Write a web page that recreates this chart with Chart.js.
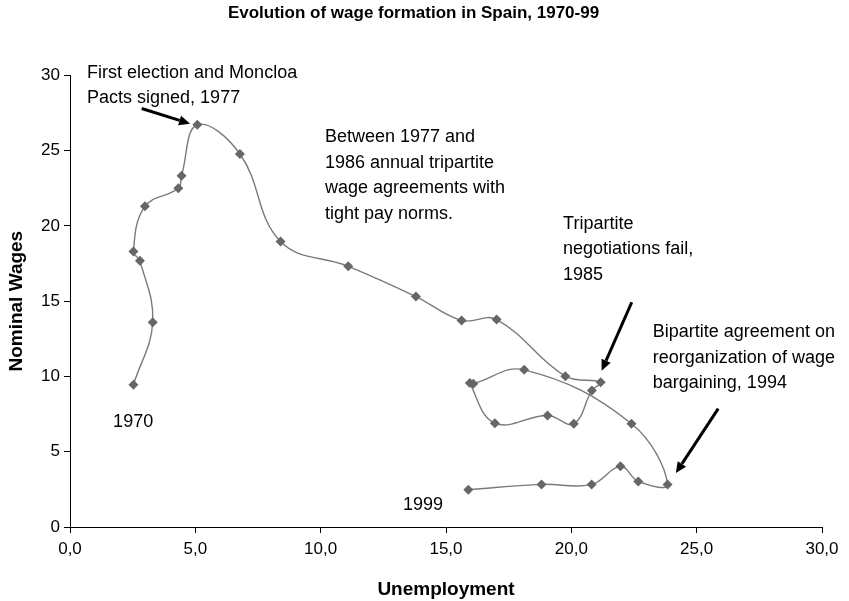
<!DOCTYPE html>
<html lang="en">
<head>
  <meta charset="UTF-8">
  <title>Evolution of wage formation in Spain, 1970-99</title>
  <script src="https://cdn.jsdelivr.net/npm/chart.js"></script>
  <style>
    body {
      margin: 0;
      background-color: #fff;
    }
    #wrap {
      width: 849px;
      height: 601px;
    }
  </style>
</head>
<body>
  <div id="wrap"><canvas id="wageChart" width="849" height="601"></canvas></div>

  <script>
    // one point per year, 1970 .. 1999
    const years = [1970, 1971, 1972, 1973, 1974, 1975, 1976, 1977, 1978, 1979,
                   1980, 1981, 1982, 1983, 1984, 1985, 1986, 1987, 1988, 1989,
                   1990, 1991, 1992, 1993, 1994, 1995, 1996, 1997, 1998, 1999];
    const unemployment = [2.53, 3.30, 2.79, 2.53, 2.99, 4.32, 4.45, 5.08, 6.78, 8.40,
                          11.10, 13.80, 15.62, 17.02, 19.76, 21.17, 20.82, 20.10, 19.05, 16.95,
                          15.95, 16.09, 18.12, 22.40, 23.84, 22.67, 21.96, 20.81, 18.81, 15.89];
    const nominalWages = [9.45, 13.60, 17.68, 18.30, 21.30, 22.50, 23.34, 26.72, 24.78, 18.96,
                          17.32, 15.31, 13.72, 13.78, 10.02, 9.62, 9.07, 6.86, 7.41, 6.90,
                          9.56, 9.52, 10.44, 6.86, 2.83, 3.03, 4.03, 2.83, 2.83, 2.48];
    const xTicks = [0, 5, 10, 15, 20, 25, 30];
    const yTicks = [0, 5, 10, 15, 20, 25, 30];

    // text notes, anchored in data units (left edge, middle of first line)
    const notes = [
      { lines: ['First election and Moncloa', 'Pacts signed, 1977'], x: 0.68, y: 30.17 },
      { lines: ['Between 1977 and', '1986 annual tripartite', 'wage agreements with', 'tight pay norms.'], x: 10.17, y: 25.90 },
      { lines: ['Tripartite', 'negotiations fail,', '1985'], x: 19.67, y: 20.15 },
      { lines: ['Bipartite agreement on', 'reorganization of wage', 'bargaining, 1994'], x: 23.25, y: 12.92 },
      { lines: ['1970'], x: 1.72, y: 6.95 },
      { lines: ['1999'], x: 13.28, y: 1.44 }
    ];
    // arrows: from -> tip, data units
    const arrows = [
      { x1: 2.86, y1: 27.80, x2: 4.79, y2: 26.79 },
      { x1: 22.41, y1: 14.93, x2: 21.21, y2: 10.38 },
      { x1: 25.86, y1: 7.86, x2: 24.17, y2: 3.58 }
    ];

    const points = years.map((yr, i) => ({ x: unemployment[i], y: nominalWages[i] }));

    const notesPlugin = {
      id: 'notes',
      afterDraw(chart) {
        const c = chart.ctx;
        const sx = chart.scales.x, sy = chart.scales.y;
        c.save();
        c.fillStyle = '#000';
        c.font = '18px Arial, "Liberation Sans", sans-serif';
        c.textAlign = 'left';
        c.textBaseline = 'middle';
        for (const n of notes) {
          const px = sx.getPixelForValue(n.x);
          const py = sy.getPixelForValue(n.y);
          n.lines.forEach((t, k) => c.fillText(t, px, py + k * 25.5));
        }
        c.strokeStyle = '#000';
        c.lineWidth = 3;
        for (const a of arrows) {
          const x1 = sx.getPixelForValue(a.x1), y1 = sy.getPixelForValue(a.y1);
          const x2 = sx.getPixelForValue(a.x2), y2 = sy.getPixelForValue(a.y2);
          const ang = Math.atan2(y2 - y1, x2 - x1);
          const hl = 11, hw = 5;
          const bx = x2 - hl * Math.cos(ang), by = y2 - hl * Math.sin(ang);
          c.beginPath();
          c.moveTo(x1, y1);
          c.lineTo(bx, by);
          c.stroke();
          c.beginPath();
          c.moveTo(x2, y2);
          c.lineTo(bx + hw * Math.sin(ang), by - hw * Math.cos(ang));
          c.lineTo(bx - hw * Math.sin(ang), by + hw * Math.cos(ang));
          c.closePath();
          c.fill();
        }
        c.restore();
      }
    };

    const ctx = document.getElementById('wageChart').getContext('2d');
    const wageChart = new Chart(ctx, {
      type: 'scatter',
      data: {
        datasets: [{
          label: 'Nominal Wages',
          data: points,
          showLine: true,
          tension: 0.4,
          borderColor: '#7a7a7a',
          borderWidth: 1.4,
          pointStyle: 'rectRot',
          pointRadius: 5,
          pointBackgroundColor: '#666666',
          pointBorderColor: '#666666',
          pointBorderWidth: 0
        }]
      },
      options: {
        responsive: false,
        animation: false,
        layout: { padding: { left: 5, right: 27, top: 0, bottom: 0 } },
        plugins: {
          legend: { display: false },
          tooltip: { enabled: false },
          title: {
            display: true,
            text: 'Evolution of wage formation in Spain, 1970-99',
            color: '#000',
            font: { family: 'Arial, "Liberation Sans", sans-serif', size: 17, weight: 'bold' },
            padding: { top: 3, bottom: 52 }
          }
        },
        scales: {
          x: {
            type: 'linear',
            min: 0,
            max: 30,
            afterBuildTicks: s => { s.ticks = xTicks.map(v => ({ value: v })); },
            afterFit: s => { s.height = 74; },
            ticks: {
              color: '#000',
              font: { family: 'Arial, "Liberation Sans", sans-serif', size: 17 },
              padding: 6,
              maxRotation: 0,
              callback: v => v.toFixed(1).replace('.', ',')
            },
            grid: { drawOnChartArea: false, drawTicks: true, tickLength: 6, color: '#000' },
            border: { color: '#000', width: 1 },
            title: {
              display: true,
              text: 'Unemployment',
              color: '#000',
              font: { family: 'Arial, "Liberation Sans", sans-serif', size: 19, weight: 'bold' },
              padding: { top: 11, bottom: 0 }
            }
          },
          y: {
            type: 'linear',
            min: 0,
            max: 30,
            afterBuildTicks: s => { s.ticks = yTicks.map(v => ({ value: v })); },
            afterFit: s => { s.width = 65; },
            ticks: {
              color: '#000',
              font: { family: 'Arial, "Liberation Sans", sans-serif', size: 17 },
              padding: 4
            },
            grid: { drawOnChartArea: false, drawTicks: true, tickLength: 6, color: '#000' },
            border: { color: '#000', width: 1 },
            title: {
              display: true,
              text: 'Nominal Wages',
              color: '#000',
              font: { family: 'Arial, "Liberation Sans", sans-serif', size: 19, weight: 'bold' },
              padding: { top: 0, bottom: 0 }
            }
          }
        }
      },
      plugins: [notesPlugin]
    });
  </script>
</body>
</html>
